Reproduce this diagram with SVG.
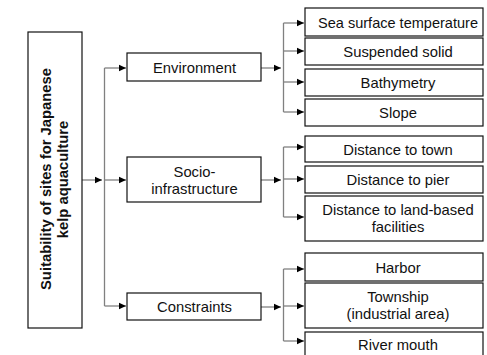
<svg xmlns="http://www.w3.org/2000/svg" width="487" height="355" viewBox="0 0 487 355">
<defs>
<marker id="ah" markerWidth="8" markerHeight="8" refX="7" refY="4" orient="auto" markerUnits="userSpaceOnUse">
<path d="M0,0.8 L7,4 L0,7.2 Z" fill="#000"/>
</marker>
<style>
rect{fill:#fff;stroke:#111;stroke-width:1.2}
text{font-family:"Liberation Sans",Arial,sans-serif;font-size:14.8px;fill:#111;text-anchor:middle}
.t{font-weight:bold}
.c path{fill:none;stroke:#808080;stroke-width:1.3}
.c .a{marker-end:url(#ah)}
</style>
</defs>
<rect width="487" height="355" style="fill:#fff;stroke:none"/>
<g class="c" id="connectors">
<path class="a" d="M82,180 H102"/>
<path d="M104.5,68 V306"/>
<path class="a" d="M104.5,68 H126"/>
<path class="a" d="M104.5,180 H126"/>
<path class="a" d="M104.5,306 H126"/>
<path class="a" d="M261,68 H281"/>
<path d="M283.5,23 V112"/>
<path class="a" d="M283.5,23 H304"/>
<path class="a" d="M283.5,51 H304"/>
<path class="a" d="M283.5,82 H304"/>
<path class="a" d="M283.5,112 H304"/>
<path class="a" d="M261,180 H281"/>
<path d="M283.5,147 V217"/>
<path class="a" d="M283.5,147 H304"/>
<path class="a" d="M283.5,179 H304"/>
<path class="a" d="M283.5,217 H304"/>
<path class="a" d="M261,307 H281"/>
<path d="M283.5,269 V341"/>
<path class="a" d="M283.5,269 H304"/>
<path class="a" d="M283.5,306 H304"/>
<path class="a" d="M283.5,341 H304"/>
</g>
<g id="root">
<rect x="28" y="32" width="54" height="296"/>
<text class="t" transform="translate(50.5,179) rotate(-90)">Suitability of sites for Japanese</text>
<text class="t" transform="translate(67.5,179.5) rotate(-90)">kelp aquaculture</text>
</g>
<g id="environment">
<rect x="127" y="53" width="134" height="28"/>
<text x="194.5" y="73">Environment</text>
</g>
<g id="socio">
<rect x="127" y="157" width="134" height="45"/>
<text x="194.5" y="176.5">Socio-</text>
<text x="194.5" y="193.5">infrastructure</text>
</g>
<g id="constraints">
<rect x="127" y="293" width="134" height="27"/>
<text x="194.5" y="312">Constraints</text>
</g>
<g id="sst">
<rect x="305" y="8" width="178" height="28"/>
<text x="398" y="28" textLength="160" lengthAdjust="spacingAndGlyphs">Sea surface temperature</text>
</g>
<g id="suspended">
<rect x="305" y="38" width="178" height="27"/>
<text x="398" y="57">Suspended solid</text>
</g>
<g id="bathymetry">
<rect x="305" y="69" width="178" height="27"/>
<text x="398" y="88">Bathymetry</text>
</g>
<g id="slope">
<rect x="305" y="99" width="178" height="27"/>
<text x="398" y="118">Slope</text>
</g>
<g id="town">
<rect x="305" y="136" width="178" height="26"/>
<text x="398" y="154.5">Distance to town</text>
</g>
<g id="pier">
<rect x="305" y="166" width="178" height="27"/>
<text x="398" y="185">Distance to pier</text>
</g>
<g id="landbased">
<rect x="305" y="196" width="178" height="45"/>
<text x="398" y="215">Distance to land-based</text>
<text x="398" y="232">facilities</text>
</g>
<g id="harbor">
<rect x="305" y="253" width="178" height="28"/>
<text x="398" y="273">Harbor</text>
</g>
<g id="township">
<rect x="305" y="283" width="178" height="45"/>
<text x="398" y="301.5">Township</text>
<text x="398" y="318.5">(industrial area)</text>
</g>
<g id="river">
<rect x="305" y="332" width="178" height="30"/>
<text x="398" y="350">River mouth</text>
</g>
</svg>
